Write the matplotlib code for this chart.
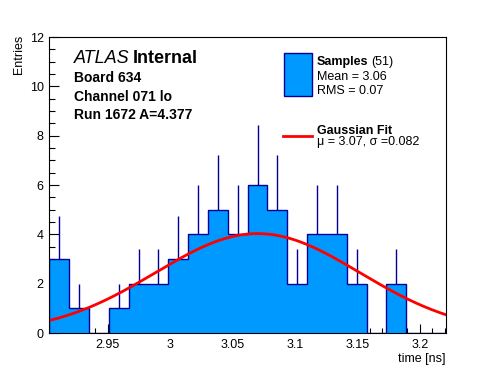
import numpy as np
import matplotlib.pyplot as plt
from matplotlib.ticker import MultipleLocator

plt.rcParams['font.family'] = ['Liberation Sans', 'DejaVu Sans']

# histogram binning and contents
x_lo, x_hi = 2.903, 3.221
counts = [3, 1, 0, 1, 2, 2, 3, 4, 5, 4, 6, 5, 2, 4, 4, 2, 0, 2, 0, 0]
n_entries = 51
mean_txt = "3.06"
rms_txt = "0.07"

# gaussian fit parameters
fit_mu = 3.07
fit_sigma = 0.082
fit_amp = 4.03

fill_col = "#0099ff"
edge_col = "#000099"

edges = np.linspace(x_lo, x_hi, len(counts) + 1)
centers = 0.5 * (edges[:-1] + edges[1:])
counts = np.array(counts, dtype=float)

W, H = 496, 372
def fx(px): return px / W
def fy(py): return 1 - py / H

fig = plt.figure(figsize=(4.96, 3.72), dpi=100)
ax = fig.add_axes([fx(49.3), fy(333), (446-49.3)/W, (333-37)/H])

# error bars (upper half visible above the fill)
m = counts > 0
ax.vlines(centers[m], counts[m], counts[m] + np.sqrt(counts[m]), color=edge_col, lw=1)

ax.stairs(counts, edges, fill=True, facecolor=fill_col, zorder=2)
ax.stairs(counts, edges, color=edge_col, lw=1, zorder=3)

xf = np.linspace(x_lo, x_hi, 300)
yf = fit_amp * np.exp(-0.5 * ((xf - fit_mu) / fit_sigma) ** 2)
ax.plot(xf, yf, color="red", lw=2, zorder=4)

ax.set_xlim(x_lo, x_hi)
ax.set_ylim(0, 12)
ax.xaxis.set_minor_locator(MultipleLocator(0.01))
ax.yaxis.set_major_locator(MultipleLocator(2))
ax.yaxis.set_minor_locator(MultipleLocator(0.5))
ax.set_xticks([2.95, 3.0, 3.05, 3.1, 3.15, 3.2])
ax.set_xticklabels(["2.95", "3", "3.05", "3.1", "3.15", "3.2"])
ax.tick_params(axis="x", which="major", direction="in", length=6.5, width=0.8, labelsize=9, pad=4)
ax.tick_params(axis="x", which="minor", direction="in", length=3.3, width=0.8)
ax.tick_params(axis="y", which="major", direction="in", length=7.5, width=0.8, labelsize=9, pad=4)
ax.tick_params(axis="y", which="minor", direction="in", length=4, width=0.8)
for s in ax.spines.values():
    s.set_linewidth(0.8)
    s.set_zorder(5)

ax.set_xlabel("time [ns]", fontsize=9, loc="right", labelpad=2)
fig.text(fx(19), fy(35), "Entries", fontsize=9, rotation=90, ha="center", va="top")

# labels top-left
fig.text(fx(74), fy(63), "ATLAS", fontsize=13, style="italic", va="baseline")
fig.text(fx(133), fy(63), "Internal", fontsize=13, weight="bold", va="baseline")
fig.text(fx(74), fy(82), "Board 634", fontsize=10, weight="bold", va="baseline")
fig.text(fx(74), fy(101), "Channel 071 lo", fontsize=10, weight="bold", va="baseline")
fig.text(fx(74), fy(119), "Run 1672 A=4.377", fontsize=10, weight="bold", va="baseline")

# legend drawn by hand
fig.patches.append(plt.Rectangle((fx(283.5), fy(96)), 28/W, 43/H, transform=fig.transFigure,
                                 facecolor=fill_col, edgecolor=edge_col, lw=1))
fig.text(fx(317), fy(65.5), "Samples", fontsize=9, weight="bold", va="baseline")
fig.text(fx(371), fy(65.5), "(%d)" % n_entries, fontsize=9, va="baseline")
fig.text(fx(317), fy(80.5), "Mean = " + mean_txt, fontsize=9, va="baseline")
fig.text(fx(317), fy(94.5), "RMS = " + rms_txt, fontsize=9, va="baseline")
fig.lines.append(plt.Line2D([fx(283), fx(312)], [fy(136), fy(136)], transform=fig.transFigure,
                            color="red", lw=2))
fig.text(fx(317), fy(133.5), "Gaussian Fit", fontsize=9, weight="bold", va="baseline")
fig.text(fx(317), fy(145.5), "\u03bc = %.2f, \u03c3 =%.3f" % (fit_mu, fit_sigma), fontsize=9, va="baseline")

fig.savefig("out.png", dpi=100)
